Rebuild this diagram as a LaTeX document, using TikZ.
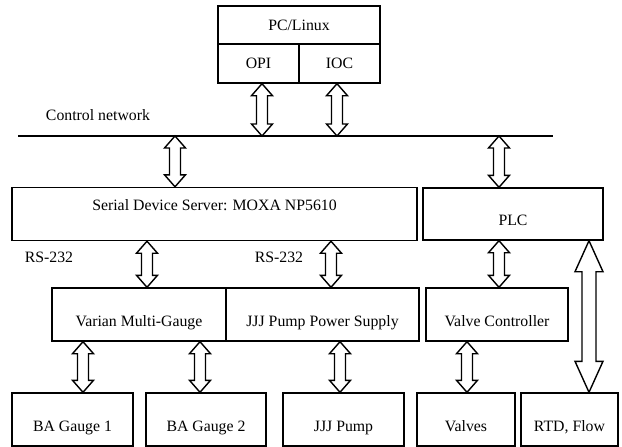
\documentclass[tikz,border=0pt]{standalone}
\usepackage{fontspec}
\setmainfont{Liberation Serif}
\usepackage{tikz}
\usetikzlibrary{calc}

% hollow double arrow: x, upper end, lower end, head half width, shaft half width, head length
\newcommand{\fatlinkx}[6]{%
  \draw[fat] let \p1=(#1,0 |- #2), \p2=(#1,0 |- #3) in
    (\p1) -- (\x1-#4,\y1-#6) -- (\x1-#5,\y1-#6) -- (\x1-#5,\y2+#6) -- (\x1-#4,\y2+#6)
    -- (\p2) -- (\x1+#4,\y2+#6) -- (\x1+#5,\y2+#6) -- (\x1+#5,\y1-#6) -- (\x1+#4,\y1-#6) -- cycle;}
\newcommand{\fatlink}[3]{\fatlinkx{#1}{#2}{#3}{10.5pt}{5.5pt}{12pt}}
\newcommand{\bigfatlink}[3]{\fatlinkx{#1}{#2}{#3}{14pt}{7pt}{31pt}}

\begin{document}
\begin{tikzpicture}[x=1pt,y=-1pt,
		font=\fontsize{15.8}{19}\selectfont,
		box/.style={draw, line width=1.4pt, inner sep=0pt, minimum height=53pt, text height=24pt, text depth=1pt},
		pcbox/.style={draw, line width=1.4pt, inner sep=0pt},
		fat/.style={draw, fill=white, line width=1.4pt},
		bus/.style={line width=1.6pt}]
	\useasboundingbox (0,0) rectangle (622,447);
	% host
	\node[pcbox, minimum width=162pt, minimum height=38pt] (pc) at (299,25) {PC/Linux};
	\node[pcbox, minimum width=81pt, minimum height=39pt] (opi) at (258.5,63.5) {OPI};
	\node[pcbox, minimum width=81pt, minimum height=39pt] (ioc) at (339.5,63.5) {IOC};
	% network
	\coordinate (netL) at (18,136);
	\coordinate (netR) at (553,136);
	\draw[bus] (netL) -- (netR);
	\node (net) at (98,115) {Control network};
	%
	\node[box, minimum width=405pt, text height=3pt, text depth=11pt] (serial) at (214.5,214) {Serial Device Server: MOXA NP5610};
	\node[box, minimum width=180pt, minimum height=52pt] (plc) at (513,214) {PLC};
	\node (rs1) at (49,257) {RS-232};
	\node (rs2) at (279,257) {RS-232};
	%
	\node[box, minimum width=174pt] (varian) at (139,314.5) {Varian Multi-Gauge};
	\node[box, minimum width=193pt] (jjjps) at (322.5,314.5) {JJJ Pump Power Supply};
	\node[box, minimum width=142pt] (valvectl) at (497,314.5) {Valve Controller};
	%
	\node[box, minimum width=121pt] (ba1) at (72.5,419.5) {BA Gauge 1};
	\node[box, minimum width=120pt] (ba2) at (206,419.5) {BA Gauge 2};
	\node[box, minimum width=121pt] (pump) at (343.5,419.5) {JJJ Pump};
	\node[box, minimum width=98pt] (valves) at (466,419.5) {Valves};
	\node[box, minimum width=97pt] (rtd) at (569.5,419.5) {RTD, Flow};
	% links
	\fatlink{262}{opi.south}{netL}
	\fatlink{337}{ioc.south}{netL}
	\fatlink{175}{netL}{serial.north}
	\fatlink{499}{netL}{plc.north}
	\fatlink{147}{serial.south}{varian.north}
	\fatlink{331}{serial.south}{jjjps.north}
	\fatlink{499}{plc.south}{valvectl.north}
	\bigfatlink{589}{plc.south}{rtd.north}
	\fatlink{83}{varian.south}{ba1.north}
	\fatlink{200}{varian.south}{ba2.north}
	\fatlink{340}{jjjps.south}{pump.north}
	\fatlink{467}{valvectl.south}{valves.north}
\end{tikzpicture}
\end{document}
